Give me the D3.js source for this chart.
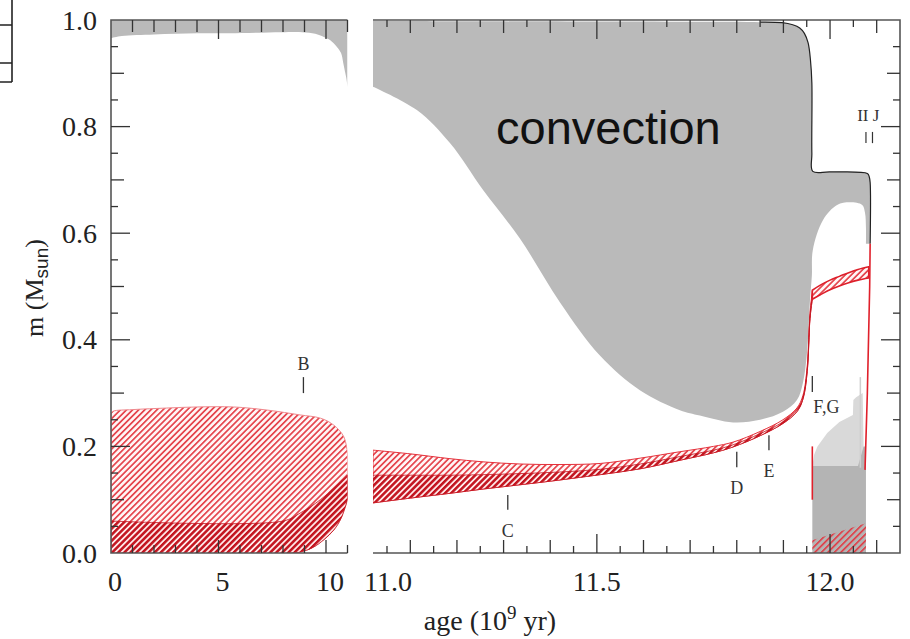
<!DOCTYPE html>
<html><head><meta charset="utf-8">
<script src="https://cdn.jsdelivr.net/npm/d3@7/dist/d3.min.js"></script>
<style>body{margin:0;background:#fff;} svg{display:block;}</style>
</head><body><svg id="c" width="910" height="639"></svg>
<script>
// ---------- DATA ----------
const yTickLabels = ["0.0","0.2","0.4","0.6","0.8","1.0"];
const xLeftTickLabels = ["0","5","10"];
const xRightTickLabels = ["11.0","11.5","12.0"];

// Left panel (age 0-11 Gyr): convective envelope lower boundary
const envLAge = [0, 0.5, 2, 4, 5.5, 7.9, 8.9, 9.5, 9.9, 10.2, 10.5, 10.7, 10.8, 10.9, 10.95, 11.0];
const envLM   = [0.966, 0.970, 0.973, 0.975, 0.975, 0.977, 0.977, 0.974, 0.968, 0.962, 0.950, 0.938, 0.920, 0.900, 0.890, 0.875];
// Left panel: H-burning region (light hatch) top
const hLTopAge = [0, 0.1, 1, 2.6, 4, 5.7, 7.3, 8.8, 9.74, 10.36, 10.83, 11.0];
const hLTopM   = [0.262, 0.266, 0.269, 0.272, 0.274, 0.274, 0.268, 0.259, 0.253, 0.240, 0.218, 0.187];
// Left panel: lower boundary of burning region
const hLBotAge = [0, 8.5, 9.0, 9.42, 9.9, 10.36, 10.7, 11.0];
const hLBotM   = [0, 0, 0.004, 0.011, 0.025, 0.043, 0.065, 0.100];
// Left panel: dark hatch (core) top
const cLTopAge = [0, 8.0, 8.8, 9.74, 10.36, 11.0];
const cLTopM   = [0.060, 0.060, 0.075, 0.100, 0.122, 0.146];

// Right panel (age 11.0-12.15 Gyr): convective envelope
const envRTopAge = [11.02, 11.5, 11.85, 11.897, 11.92, 11.935, 11.945, 11.953, 11.958, 11.961, 11.961, 11.963, 12.0, 12.08, 12.084, 12.086, 12.086];
const envRTopM   = [0.998, 0.997, 0.996, 0.995, 0.991, 0.985, 0.975, 0.957, 0.925, 0.882, 0.750, 0.716, 0.715, 0.712, 0.706, 0.695, 0.580];
const envRBotAge = [11.02, 11.114, 11.185, 11.256, 11.335, 11.421, 11.507, 11.593, 11.678, 11.721, 11.792, 11.85, 11.899, 11.929, 11.942, 11.951, 11.957, 11.961, 11.963, 11.985, 12.015, 12.043, 12.069, 12.075, 12.077, 12.077];
const envRBotM   = [0.875, 0.831, 0.769, 0.681, 0.590, 0.470, 0.370, 0.305, 0.268, 0.258, 0.245, 0.250, 0.265, 0.287, 0.320, 0.380, 0.475, 0.520, 0.568, 0.625, 0.653, 0.658, 0.653, 0.638, 0.610, 0.580];

// Right panel: H-burning shell (top / middle / bottom)
const hRAge  = [11.02, 11.1, 11.185, 11.256, 11.335, 11.421, 11.507, 11.593, 11.678, 11.75, 11.792, 11.85, 11.899, 11.929, 11.942, 11.951, 11.957, 11.962];
const hRTop  = [0.193, 0.186, 0.177, 0.171, 0.167, 0.166, 0.168, 0.178, 0.190, 0.200, 0.208, 0.228, 0.250, 0.272, 0.296, 0.350, 0.450, 0.492];
const hRMid  = [0.146, 0.146, 0.146, 0.147, 0.149, 0.152, 0.157, 0.167, 0.181, 0.193, 0.203, 0.224, 0.246, 0.268, 0.292, 0.345, 0.445, 0.485];
const hRBot  = [0.094, 0.103, 0.112, 0.120, 0.128, 0.137, 0.147, 0.158, 0.174, 0.188, 0.199, 0.220, 0.243, 0.265, 0.289, 0.340, 0.440, 0.476];
// Right panel: shell band after the He flash
const bandAge = [11.962, 11.98, 12.0, 12.02, 12.04, 12.06, 12.083];
const bandTop = [0.493, 0.503, 0.512, 0.519, 0.526, 0.532, 0.537];
const bandBot = [0.476, 0.485, 0.494, 0.501, 0.507, 0.512, 0.516];
// Right panel: red lines
const redRightAge = [12.086, 12.085, 12.080, 12.075];
const redRightM   = [0.580, 0.500, 0.300, 0.156];
const redLeftAge  = [11.962, 11.962];
const redLeftM    = [0.200, 0.100];
// Right panel: He-core convection (flashes)
const heMidAge = [11.962, 11.962, 12.048, 12.055, 12.077, 12.077];
const heMidM   = [0, 0.163, 0.163, 0.200, 0.200, 0];
const heLightAge = [11.962, 11.966, 11.973, 11.994, 12.02, 12.049, 12.050, 12.056, 12.070, 12.072, 12.060];
const heLightM   = [0.163, 0.185, 0.200, 0.225, 0.246, 0.259, 0.287, 0.292, 0.300, 0.200, 0.163];
const heHatchAge = [11.962, 11.962, 12.077, 12.077];
const heHatchM   = [0, 0.024, 0.056, 0];

// Event markers
const markLabels = ["B", "C", "D", "E", "F,G"];
const markPanel  = ["L", "R", "R", "R", "R"];
const markAge    = [8.95, 11.309, 11.80, 11.869, 11.962];
const markM0     = [0.300, 0.081, 0.161, 0.193, 0.302];
const markM1     = [0.330, 0.109, 0.190, 0.221, 0.332];
const markLabelM = [0.343, 0.030, 0.110, 0.142, 0.262];
const ijAges = [12.077, 12.091];

// ---------- SCALES ----------
const svg = d3.select("#c");
const y  = d3.scaleLinear().domain([0, 1]).range([553, 20]);
const xL = d3.scaleLinear().domain([0, 11]).range([111, 347.5]);
const xR = d3.scaleLinear().domain([11.02, 12.15]).range([373, 900]);
const zip = (a, b) => a.map((v, i) => [v, b[i]]);
const SMOOTH = d3.curveCatmullRom.alpha(0.5);
// build a closed path from several segments: [points, smooth?]
function pathOf(xs, segs) {
  let d = "";
  segs.forEach(([pts, smooth], i) => {
    const s = d3.line().x(p => xs(p[0])).y(p => y(p[1])).curve(smooth ? SMOOTH : d3.curveLinear)(pts);
    d += i === 0 ? s : s.replace(/^M/, "L");
  });
  return d + "Z";
}
const lineR = d3.line().x(d => xR(d[0])).y(d => y(d[1]));

const defs = svg.append("defs");
function hatch(id, sp, sw, col, bg) {
  const p = defs.append("pattern").attr("id", id).attr("patternUnits", "userSpaceOnUse")
    .attr("width", sp).attr("height", sp).attr("patternTransform", "rotate(45)");
  if (bg) p.append("rect").attr("width", sp).attr("height", sp).attr("fill", bg);
  p.append("line").attr("x1", sw / 2).attr("y1", -1).attr("x2", sw / 2).attr("y2", sp + 1)
    .attr("stroke", col).attr("stroke-width", sw);
}
hatch("hLight", 4.3, 1.7, "#e5454d", "#fff6f6");
hatch("hDark", 4.3, 2.5, "#c3141f", "#ffeaea");
hatch("hTrans", 4.6, 1.5, "#e5303a", null);

defs.append("clipPath").attr("id", "clipL").append("rect")
  .attr("x", xL.range()[0]).attr("y", y(1)).attr("width", xL.range()[1] - xL.range()[0]).attr("height", y(0) - y(1));
defs.append("clipPath").attr("id", "clipR").append("rect")
  .attr("x", xR.range()[0]).attr("y", y(1)).attr("width", xR.range()[1] - xR.range()[0]).attr("height", y(0) - y(1));

const GRAY = "#bababa";

// ---------- LEFT PANEL ----------
const gL = svg.append("g").attr("clip-path", "url(#clipL)");
gL.append("path")
  .attr("d", pathOf(xL, [[[[0, 1], [11, 1]], false], [zip(envLAge, envLM).reverse(), true]]))
  .attr("fill", GRAY);
gL.append("path")
  .attr("d", pathOf(xL, [[zip(hLTopAge, hLTopM), true], [zip(hLBotAge, hLBotM).reverse(), true]]))
  .attr("fill", "url(#hLight)").attr("stroke", "#ef8a8f").attr("stroke-width", 1);
gL.append("path")
  .attr("d", pathOf(xL, [[zip(cLTopAge, cLTopM), true], [zip(hLBotAge, hLBotM).reverse(), true]]))
  .attr("fill", "url(#hDark)").attr("stroke", "#c3141f").attr("stroke-width", 0.8);

// ---------- RIGHT PANEL ----------
const gR = svg.append("g").attr("clip-path", "url(#clipR)");
gR.append("path")
  .attr("d", pathOf(xR, [[zip(envRTopAge, envRTopM), true], [zip(envRBotAge, envRBotM).reverse(), true]]))
  .attr("fill", GRAY);
gR.append("path").attr("d", lineR(zip(heMidAge, heMidM)) + "Z").attr("fill", "#b4b4b4");
gR.append("path").attr("d", pathOf(xR, [[zip(heLightAge, heLightM), false]])).attr("fill", "#d9d9d9");
gR.append("line").attr("x1", xR(12.065)).attr("x2", xR(12.065)).attr("y1", y(0.33)).attr("y2", y(0.16))
  .attr("stroke", "#cfcfcf").attr("stroke-width", 1.5);
gR.append("path").attr("d", lineR(zip(heHatchAge, heHatchM)) + "Z").attr("fill", "url(#hTrans)");
// black outline of envelope
gR.append("path")
  .attr("d", d3.line().x(d => xR(d[0])).y(d => y(d[1])).curve(SMOOTH)(zip(envRTopAge, envRTopM).filter(d => d[0] > 11.6)))
  .attr("fill", "none").attr("stroke", "#222").attr("stroke-width", 1.2);
// H shell
gR.append("path")
  .attr("d", pathOf(xR, [[zip(hRAge, hRTop), true], [zip(hRAge, hRBot).reverse(), true]]))
  .attr("fill", "url(#hLight)").attr("stroke", "#e5303a").attr("stroke-width", 1);
gR.append("path")
  .attr("d", pathOf(xR, [[zip(hRAge, hRMid), true], [zip(hRAge, hRBot).reverse(), true]]))
  .attr("fill", "url(#hDark)").attr("stroke", "#c3141f").attr("stroke-width", 0.8);
gR.append("path")
  .attr("d", pathOf(xR, [[zip(bandAge, bandTop), true], [zip(bandAge, bandBot).reverse(), true]]))
  .attr("fill", "url(#hLight)").attr("stroke", "#dd1f2a").attr("stroke-width", 1.6);
gR.append("path").attr("d", lineR(zip(redRightAge, redRightM)))
  .attr("fill", "none").attr("stroke", "#e0202b").attr("stroke-width", 1.6);
gR.append("path").attr("d", lineR(zip(redLeftAge, redLeftM)))
  .attr("fill", "none").attr("stroke", "#e0202b").attr("stroke-width", 1.6);

// ---------- AXES ----------
const axCol = "#555";
svg.append("path").attr("d", `M${xL.range()[1]},${y(1)}H${xL.range()[0]}V${y(0)}H${xL.range()[1]}`)
  .attr("fill", "none").attr("stroke", axCol).attr("stroke-width", 1.6);
svg.append("path").attr("d", `M${xR.range()[0]},${y(1)}H${xR.range()[1]}V${y(0)}H${xR.range()[0]}`)
  .attr("fill", "none").attr("stroke", axCol).attr("stroke-width", 1.6);

const tk = svg.append("g").attr("stroke", "#333").attr("stroke-width", 1.3);
const yTicks = d3.range(1, 20).map(i => i * 0.05);
yTicks.forEach(v => {
  const k = Math.round(v * 20);
  const len = (k % 4 === 0) ? 19 : (k % 2 === 0 ? 13 : 7);
  tk.append("line").attr("x1", xL.range()[0]).attr("x2", xL.range()[0] + len).attr("y1", y(v)).attr("y2", y(v));
  tk.append("line").attr("x1", xR.range()[1]).attr("x2", xR.range()[1] - len).attr("y1", y(v)).attr("y2", y(v));
});
d3.range(1, 12).forEach(v => {
  const major = v % 5 === 0;
  tk.append("line").attr("x1", xL(v)).attr("x2", xL(v)).attr("y1", y(1)).attr("y2", y(1) + (major ? 19 : 12));
  tk.append("line").attr("x1", xL(v)).attr("x2", xL(v)).attr("y1", y(0)).attr("y2", y(0) - (major ? 13 : 8));
});
d3.range(0, 22).map(i => 11.05 + i * 0.05).forEach(v => {
  const k = Math.round(v * 20);
  const len = (k % 10 === 0) ? 19 : (k % 2 === 0 ? 13 : 7);
  tk.append("line").attr("x1", xR(v)).attr("x2", xR(v)).attr("y1", y(1)).attr("y2", y(1) + len);
  tk.append("line").attr("x1", xR(v)).attr("x2", xR(v)).attr("y1", y(0)).attr("y2", y(0) - len);
});

const serif = "'Liberation Serif','Times New Roman',Times,serif";
const lab = svg.append("g").attr("font-family", serif).attr("fill", "#222");
yTickLabels.forEach(t => {
  lab.append("text").attr("x", 97).attr("y", y(+t) + 9.5).attr("text-anchor", "end")
    .attr("font-size", 28).text(t);
});
xLeftTickLabels.forEach(t => {
  lab.append("text").attr("x", xL(+t) + 4).attr("y", 591).attr("text-anchor", "middle")
    .attr("font-size", 28).text(t);
});
xRightTickLabels.forEach(t => {
  lab.append("text").attr("x", Math.max(xR(+t), xR.range()[0] + 15)).attr("y", 591).attr("text-anchor", "middle")
    .attr("font-size", 28).text(t);
});
const xt = lab.append("text").attr("x", 490).attr("y", 630).attr("text-anchor", "middle").attr("font-size", 28);
xt.append("tspan").text("age (10");
xt.append("tspan").attr("font-size", 19).attr("dy", -11).text("9");
xt.append("tspan").attr("dy", 11).text(" yr)");
const yt = lab.append("text").attr("transform", "translate(43,288) rotate(-90)").attr("text-anchor", "middle").attr("font-size", 26);
yt.append("tspan").text("m (M");
yt.append("tspan").attr("font-size", 19).attr("font-family", "'Liberation Sans',Arial,sans-serif").attr("dy", 5).text("sun");
yt.append("tspan").attr("dy", -5).text(")");

// event markers
const mk = svg.append("g");
markLabels.forEach((t, i) => {
  const xs = markPanel[i] === "L" ? xL : xR;
  mk.append("line").attr("x1", xs(markAge[i])).attr("x2", xs(markAge[i]))
    .attr("y1", y(markM0[i])).attr("y2", y(markM1[i])).attr("stroke", "#333").attr("stroke-width", 1.3);
  const isFG = t === "F,G";
  mk.append("text").attr("x", xs(markAge[i]) + (isFG ? 1 : 0)).attr("y", y(markLabelM[i]))
    .attr("text-anchor", isFG ? "start" : "middle").attr("font-family", serif).attr("font-size", 18)
    .attr("fill", "#333").text(t);
});
ijAges.forEach(a => {
  mk.append("line").attr("x1", xR(a)).attr("x2", xR(a)).attr("y1", y(0.769)).attr("y2", y(0.79))
    .attr("stroke", "#333").attr("stroke-width", 1.2);
});
mk.append("text").attr("x", xR(12.082)).attr("y", y(0.81)).attr("text-anchor", "middle")
  .attr("font-family", serif).attr("font-size", 17).attr("fill", "#333").text("II J");

// "convection" label
svg.append("text").attr("x", 496).attr("y", 144).attr("font-family", "'Liberation Sans',Arial,sans-serif")
  .attr("font-size", 47).attr("fill", "#111").text("convection");

// top-left fragment of a neighbouring frame
const fr = svg.append("g").attr("stroke", "#222").attr("stroke-width", 1.6).attr("fill", "none");
fr.append("path").attr("d", "M12,0V82M0,25H12M0,63H12M0,82H12");
</script>
</body></html>
